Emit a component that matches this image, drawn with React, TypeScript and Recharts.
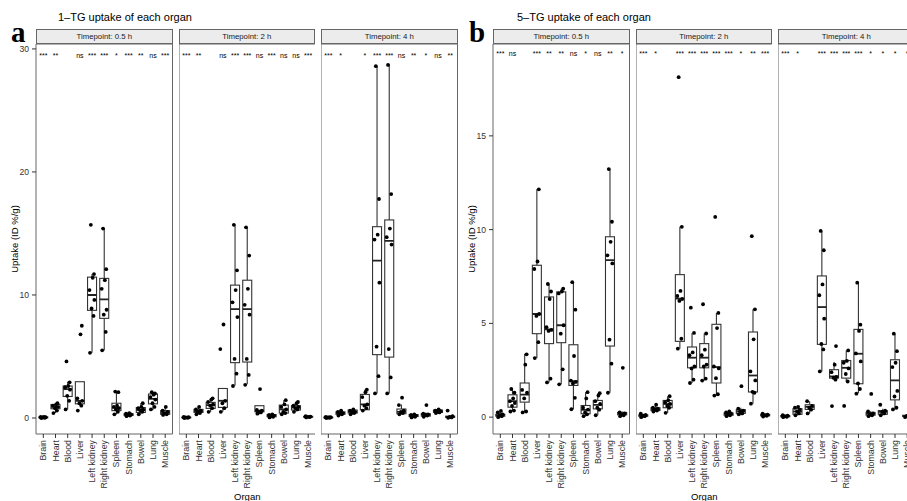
import { ComposedChart, Bar, Scatter, XAxis, YAxis, ReferenceArea } from 'recharts';

const ORGANS = ['Brain', 'Heart', 'Blood', 'Liver', 'Left kidney', 'Right kidney', 'Spleen', 'Stomach', 'Bowel', 'Lung', 'Muscle'];
const TIMEPOINTS = ['Timepoint: 0.5 h', 'Timepoint: 2 h', 'Timepoint: 4 h'];

// box stats per organ: [lower whisker, q1, median, q3, upper whisker]
const TG1_05H_BOX = [
  [0.0, 0.02, 0.05, 0.08, 0.12], [0.4, 0.75, 0.9, 1.1, 1.2], [0.7, 1.75, 2.35, 2.6, 2.95], [1.0, 1.15, 1.4, 2.95, 2.95],
  [5.3, 8.75, 10.0, 11.45, 11.7], [5.5, 8.1, 9.65, 11.35, 15.45], [0.3, 0.6, 0.85, 1.2, 2.15], [0.15, 0.2, 0.27, 0.35, 0.42],
  [0.3, 0.45, 0.65, 0.85, 1.2], [0.65, 1.15, 1.55, 1.95, 2.1], [0.25, 0.3, 0.42, 0.6, 0.9],
];
const TG1_05H_PTS = [
  [0.0, 0.02, 0.04, 0.06, 0.08, 0.1], [0.4, 0.6, 0.8, 0.9, 1.0, 1.1, 1.2], [0.7, 1.4, 1.8, 2.3, 2.5, 2.6, 2.9, 4.6],
  [0.6, 1.0, 1.2, 1.4, 1.6, 6.8, 7.5], [5.3, 8.3, 8.9, 9.6, 10.4, 11.4, 11.7, 15.7], [5.5, 7.0, 8.4, 8.8, 10.5, 11.2, 12.1, 15.4],
  [0.3, 0.5, 0.7, 0.8, 0.9, 1.0, 2.1, 2.15], [0.15, 0.2, 0.25, 0.3, 0.35, 0.4], [0.3, 0.5, 0.6, 0.7, 0.8, 0.9, 1.2],
  [0.7, 0.9, 1.2, 1.5, 1.7, 1.9, 2.0, 2.1], [0.25, 0.3, 0.4, 0.5, 0.6, 0.9],
];
const TG1_2H_BOX = [
  [0.0, 0.02, 0.04, 0.06, 0.09], [0.3, 0.45, 0.55, 0.7, 0.95], [0.5, 0.78, 1.05, 1.27, 1.6], [0.5, 0.86, 1.4, 2.4, 2.4],
  [2.65, 4.5, 8.85, 10.8, 15.7], [2.75, 4.55, 8.85, 11.2, 15.45], [0.3, 0.5, 0.6, 1.0, 1.0], [0.05, 0.1, 0.2, 0.28, 0.35],
  [0.3, 0.4, 0.7, 1.05, 1.45], [0.5, 0.65, 0.85, 1.0, 1.3], [0.04, 0.07, 0.1, 0.13, 0.16],
];
const TG1_2H_PTS = [
  [0.0, 0.02, 0.04, 0.06, 0.08], [0.3, 0.4, 0.5, 0.6, 0.7, 0.9], [0.5, 0.8, 1.0, 1.1, 1.3, 1.5, 1.6], [0.5, 0.8, 1.2, 1.4, 5.6, 7.6],
  [2.6, 3.6, 4.8, 8.2, 9.4, 10.4, 12.0, 15.7], [2.7, 3.5, 4.8, 8.4, 9.2, 10.5, 13.2, 15.5], [0.35, 0.45, 0.5, 0.6, 0.65, 2.35],
  [0.05, 0.1, 0.15, 0.2, 0.25, 0.3], [0.3, 0.4, 0.5, 0.7, 0.9, 1.1, 1.45], [0.5, 0.7, 0.8, 0.9, 1.0, 1.2, 1.3], [0.05, 0.08, 0.1, 0.12, 0.15],
];
const TG1_4H_BOX = [
  [0.0, 0.02, 0.04, 0.06, 0.08], [0.2, 0.3, 0.4, 0.5, 0.6], [0.3, 0.4, 0.5, 0.65, 0.75], [0.6, 0.67, 1.1, 1.92, 2.3],
  [2.0, 5.15, 12.8, 15.55, 28.55], [2.0, 4.95, 14.4, 16.1, 28.75], [0.3, 0.35, 0.5, 0.73, 1.1], [0.05, 0.12, 0.2, 0.28, 0.35],
  [0.1, 0.15, 0.25, 0.35, 0.45], [0.35, 0.45, 0.55, 0.65, 0.75], [0.02, 0.05, 0.1, 0.15, 0.2],
];
const TG1_4H_PTS = [
  [0.0, 0.02, 0.04, 0.06, 0.08, 0.05], [0.2, 0.3, 0.35, 0.4, 0.5, 0.6], [0.3, 0.4, 0.45, 0.5, 0.6, 0.7], [0.6, 0.8, 1.0, 1.1, 1.7, 2.1, 2.3],
  [2.0, 3.4, 5.8, 11.0, 14.5, 14.9, 17.8, 28.6], [2.0, 3.3, 5.6, 14.1, 14.7, 15.4, 18.2, 28.7], [0.3, 0.4, 0.5, 0.6, 1.05, 1.65],
  [0.05, 0.1, 0.15, 0.2, 0.25, 0.3], [0.1, 0.2, 0.25, 0.3, 0.35, 1.05], [0.4, 0.45, 0.5, 0.55, 0.6, 0.7], [0.02, 0.05, 0.1, 0.15, 0.6],
];
const TG5_05H_BOX = [
  [0.0, 0.05, 0.1, 0.15, 0.33], [0.33, 0.53, 0.85, 1.19, 1.5], [0.25, 0.8, 1.2, 1.82, 3.38], [3.15, 4.45, 5.5, 8.1, 12.15],
  [1.85, 3.92, 4.68, 6.41, 7.1], [1.75, 3.97, 4.9, 6.68, 6.85], [0.42, 1.69, 1.92, 3.86, 7.2], [0.05, 0.18, 0.39, 0.62, 1.33],
  [0.1, 0.44, 0.65, 0.89, 1.28], [1.3, 3.79, 8.37, 9.62, 13.23], [0.05, 0.12, 0.18, 0.25, 0.3],
];
const TG5_05H_PTS = [
  [0.0, 0.05, 0.1, 0.15, 0.25, 0.33], [0.3, 0.35, 0.6, 0.75, 0.85, 1.0, 1.3, 1.5], [0.25, 0.3, 1.0, 1.3, 1.45, 2.8, 3.35],
  [3.15, 4.0, 5.4, 5.5, 7.9, 8.3, 12.15], [1.85, 2.05, 4.6, 4.65, 4.8, 6.3, 6.7, 7.1], [1.75, 2.55, 4.45, 4.9, 6.6, 6.7, 6.85],
  [0.42, 1.03, 1.8, 1.88, 1.95, 3.26, 5.73, 7.2], [0.05, 0.15, 0.25, 0.4, 0.5, 1.0, 1.33], [0.1, 0.4, 0.5, 0.7, 0.85, 1.15, 1.28],
  [1.3, 2.85, 4.13, 8.2, 8.63, 9.35, 10.42, 13.23], [0.05, 0.1, 0.15, 0.2, 0.25, 2.63],
];
const TG5_2H_BOX = [
  [0.0, 0.05, 0.08, 0.12, 0.18], [0.3, 0.35, 0.4, 0.5, 0.6], [0.23, 0.5, 0.7, 0.89, 1.12], [3.65, 4.04, 6.32, 7.6, 10.15],
  [1.82, 2.63, 3.17, 3.74, 4.49], [1.95, 2.63, 3.17, 3.92, 4.46], [1.15, 1.82, 2.67, 4.95, 5.56], [0.05, 0.1, 0.15, 0.22, 0.3],
  [0.1, 0.2, 0.3, 0.4, 0.5], [0.72, 1.34, 2.22, 4.54, 5.75], [0.03, 0.07, 0.1, 0.15, 0.2],
];
const TG5_2H_PTS = [
  [0.0, 0.05, 0.08, 0.12, 0.18], [0.3, 0.35, 0.4, 0.45, 0.5, 0.66], [0.23, 0.5, 0.6, 0.7, 0.8, 0.9, 1.12],
  [3.65, 4.18, 6.2, 6.3, 6.46, 6.73, 10.15, 18.13], [1.82, 2.0, 2.6, 2.7, 3.3, 3.45, 4.49, 5.84], [1.95, 2.05, 2.7, 2.8, 3.3, 3.6, 4.46, 6.02],
  [1.15, 1.22, 2.08, 2.6, 2.7, 4.75, 5.56, 10.68], [0.05, 0.1, 0.15, 0.2, 0.25, 0.3], [0.15, 0.2, 0.3, 0.35, 0.45, 1.65],
  [0.72, 1.3, 1.35, 1.96, 2.44, 4.15, 5.75, 9.65], [0.03, 0.07, 0.1, 0.13, 0.18],
];
const TG5_4H_BOX = [
  [0.0, 0.02, 0.05, 0.08, 0.1], [0.1, 0.15, 0.3, 0.45, 0.55], [0.2, 0.41, 0.55, 0.66, 0.85], [2.44, 3.88, 5.87, 7.53, 9.93],
  [2.0, 2.08, 2.17, 2.53, 2.94], [1.9, 2.08, 2.63, 3.02, 3.56], [1.28, 1.78, 3.38, 4.68, 7.17], [0.05, 0.1, 0.18, 0.25, 0.32],
  [0.1, 0.15, 0.28, 0.35, 0.45], [0.41, 0.92, 1.96, 3.06, 4.45], [0.0, 0.03, 0.06, 0.1, 0.14],
];
const TG5_4H_PTS = [
  [0.0, 0.02, 0.05, 0.08, 0.1], [0.1, 0.2, 0.3, 0.4, 0.5, 0.55], [0.2, 0.4, 0.5, 0.6, 0.85], [2.44, 3.61, 3.9, 5.25, 6.5, 7.08, 8.9, 9.93],
  [0.59, 2.0, 2.1, 2.15, 2.4, 2.8, 3.79], [0.6, 1.9, 2.3, 2.6, 2.9, 3.0, 3.56], [1.25, 1.5, 1.8, 2.97, 3.4, 4.6, 4.93, 7.17],
  [0.05, 0.1, 0.15, 0.2, 0.3, 1.24], [0.1, 0.2, 0.28, 0.35, 0.66], [0.41, 0.5, 1.1, 1.4, 2.67, 2.9, 3.52, 4.45], [0.0, 0.03, 0.06, 0.1],
];

// significance vs. Blood
const TG1_SIG = [
  ['***', '**', '', 'ns', '***', '***', '*', '***', '**', 'ns', '***'],
  ['***', '**', '', 'ns', '***', '***', 'ns', '***', 'ns', 'ns', '***'],
  ['***', '*', '', '*', '***', '***', 'ns', '**', '*', 'ns', '**'],
];
const TG5_SIG = [
  ['***', 'ns', '', '***', '**', '**', 'ns', '*', 'ns', '**', '*'],
  ['***', '*', '', '***', '***', '***', '***', '***', '*', '**', '***'],
  ['***', '*', '', '***', '***', '***', '***', '*', '*', '*', '*'],
];

const TG1_TICKS = [0, 10, 20, 30];
const TG5_TICKS = [0, 5, 10, 15];

// layout
const FONT = '"Liberation Sans", Arial, Helvetica, sans-serif';
const PANEL_W = 136.5;
const Y_AXIS_W = 36;
const PLOT_TOP = 44;
const PLOT_H = 390;
const X_AXIS_H = 67;
const X_DOMAIN = [0.4, 11.6];
const BOX_W = 9;
const JITTER = [-0.17, 0.12, -0.04, 0.19, -0.21, 0.05, 0.16, -0.1];
const LINE = '#333';
const BORDER = '#666';

const BoxShape = (props: any) => {
  const { x, y, width, height, payload } = props;
  const { lo, q1, med, q3, hi } = payload;
  const k = height / (hi - lo);
  const py = (v: number) => y + (hi - v) * k;
  const cx = x + (width || 0) / 2;
  const bx = cx - BOX_W / 2;
  return (
    <g>
      <line x1={cx} x2={cx} y1={py(hi)} y2={py(q3)} stroke={LINE} strokeWidth={1.1} />
      <line x1={cx} x2={cx} y1={py(q1)} y2={py(lo)} stroke={LINE} strokeWidth={1.1} />
      <rect x={bx} y={py(q3)} width={BOX_W} height={Math.max(py(q1) - py(q3), 0.5)} fill="#fff" stroke={LINE} strokeWidth={1.1} />
      <line x1={bx} x2={bx + BOX_W} y1={py(med)} y2={py(med)} stroke="#222" strokeWidth={1.8} />
    </g>
  );
};

const Dot = (props: any) => <circle cx={props.cx} cy={props.cy} r={1.9} fill="#000" />;

const SigText = (props: any) => (
  <text x={props.cx} y={props.cy} textAnchor="middle" fontSize={7} fontFamily={FONT} fill="#000">
    {props.payload.sig}
  </text>
);

const OrganTick = ({ x, y, payload }: any) => (
  <text
    x={x}
    y={y}
    transform={`rotate(-90 ${x} ${y})`}
    textAnchor="end"
    dominantBaseline="central"
    fontSize={8.8}
    fontFamily={FONT}
    fill="#333"
  >
    {ORGANS[payload.value - 1]}
  </text>
);

const YTitle = (props: any) => {
  const vb = props.viewBox || {};
  const cx = vb.x + 14;
  const cy = vb.y + vb.height / 2;
  return (
    <text x={cx} y={cy} transform={`rotate(-90 ${cx} ${cy})`} textAnchor="middle" dominantBaseline="central" fontSize={9.5} fontFamily={FONT} fill="#000">
      Uptake (ID %/g)
    </text>
  );
};

const XTitle = (props: any) => {
  const vb = props.viewBox || {};
  return (
    <text x={vb.x + vb.width / 2} y={vb.y + vb.height - 1.5} textAnchor="middle" fontSize={9.5} fontFamily={FONT} fill="#000">
      Organ
    </text>
  );
};

interface PanelProps {
  box: number[][];
  pts: number[][];
  sig: string[];
  domain: number[];
  ticks: number[];
  sigY: number;
  left: number;
  strip: string;
  showY: boolean;
  showXTitle: boolean;
}

function Panel({ box, pts, sig, domain, ticks, sigY, left, strip, showY, showXTitle }: PanelProps) {
  const boxData = box.map((b, i) => ({ x: i + 1, lo: b[0], q1: b[1], med: b[2], q3: b[3], hi: b[4], range: [b[0], b[4]] }));
  const pointData = pts.flatMap((vals, i) => vals.map((v, j) => ({ x: i + 1 + JITTER[j % JITTER.length], y: v })));
  const sigData = sig.map((s, i) => ({ x: i + 1, y: sigY, sig: s })).filter((d) => d.sig !== '');
  const chartW = PANEL_W + (showY ? Y_AXIS_W : 0);

  return (
    <>
      <div
        style={{
          position: 'absolute',
          left,
          top: 29,
          width: PANEL_W,
          height: 15,
          boxSizing: 'border-box',
          border: `1px solid ${BORDER}`,
          background: '#ececec',
          fontFamily: FONT,
          fontSize: 7.8,
          lineHeight: '13px',
          textAlign: 'center',
          color: '#1a1a1a',
        }}
      >
        {strip}
      </div>
      <div style={{ position: 'absolute', left: left - (showY ? Y_AXIS_W : 0), top: PLOT_TOP }}>
        <ComposedChart
          width={chartW}
          height={PLOT_H + X_AXIS_H}
          data={boxData}
          margin={{ top: 0, right: 0, bottom: 0, left: 0 }}
        >
          <XAxis
            dataKey="x"
            type="number"
            domain={X_DOMAIN}
            allowDataOverflow
            ticks={[1, 2, 3, 4, 5, 6, 7, 8, 9, 10, 11]}
            interval={0}
            height={X_AXIS_H}
            tickSize={4}
            tickMargin={2}
            axisLine={false}
            tickLine={{ stroke: LINE }}
            tick={<OrganTick />}
            label={showXTitle ? <XTitle /> : undefined}
          />
          <YAxis
            type="number"
            domain={domain}
            allowDataOverflow
            ticks={ticks}
            interval={0}
            hide={!showY}
            width={Y_AXIS_W}
            tickSize={4}
            tickMargin={3}
            axisLine={false}
            tickLine={{ stroke: LINE }}
            tick={{ fontSize: 8.6, fill: '#333', fontFamily: FONT }}
            label={showY ? <YTitle /> : undefined}
          />
          <ReferenceArea
            x1={X_DOMAIN[0]}
            x2={X_DOMAIN[1]}
            y1={domain[0]}
            y2={domain[1]}
            fill="none"
            stroke={BORDER}
            strokeWidth={1}
            ifOverflow="visible"
          />
          <Bar dataKey="range" barSize={BOX_W} shape={<BoxShape />} isAnimationActive={false} />
          <Scatter data={pointData} dataKey="y" shape={<Dot />} isAnimationActive={false} />
          <Scatter data={sigData} dataKey="y" shape={<SigText />} isAnimationActive={false} />
        </ComposedChart>
      </div>
    </>
  );
}

const A_LEFTS = [36, 178.5, 321];
const B_LEFTS = [493, 635.5, 778];
const A_BOXES = [TG1_05H_BOX, TG1_2H_BOX, TG1_4H_BOX];
const A_PTS = [TG1_05H_PTS, TG1_2H_PTS, TG1_4H_PTS];
const B_BOXES = [TG5_05H_BOX, TG5_2H_BOX, TG5_4H_BOX];
const B_PTS = [TG5_05H_PTS, TG5_2H_PTS, TG5_4H_PTS];

const letterStyle = {
  position: 'absolute' as const,
  top: 19.5,
  fontFamily: '"Liberation Serif", "Times New Roman", serif',
  fontWeight: 'bold' as const,
  fontSize: 29,
  lineHeight: '24px',
};

export default function App() {
  return (
    <div
      style={{
        position: 'absolute',
        left: 0,
        top: 0,
        width: 907,
        height: 501,
        overflow: 'hidden',
        background: '#fff',
        fontFamily: FONT,
      }}
    >
      <div style={{ ...letterStyle, left: 11 }}>a</div>
      <div style={{ ...letterStyle, left: 469 }}>b</div>
      <div style={{ position: 'absolute', left: 58, top: 11, fontSize: 11, whiteSpace: 'nowrap' }}>1–TG uptake of each organ</div>
      <div style={{ position: 'absolute', left: 517, top: 11, fontSize: 11, whiteSpace: 'nowrap' }}>5–TG uptake of each organ</div>

      {A_LEFTS.map((left, i) => (
        <Panel
          key={`a${i}`}
          box={A_BOXES[i]}
          pts={A_PTS[i]}
          sig={TG1_SIG[i]}
          domain={[-1.3, 30.4]}
          ticks={TG1_TICKS}
          sigY={29.3}
          left={left}
          strip={TIMEPOINTS[i]}
          showY={i === 0}
          showXTitle={i === 1}
        />
      ))}
      {B_LEFTS.map((left, i) => (
        <Panel
          key={`b${i}`}
          box={B_BOXES[i]}
          pts={B_PTS[i]}
          sig={TG5_SIG[i]}
          domain={[-0.9, 19.9]}
          ticks={TG5_TICKS}
          sigY={19.25}
          left={left}
          strip={TIMEPOINTS[i]}
          showY={i === 0}
          showXTitle={i === 1}
        />
      ))}
    </div>
  );
}
